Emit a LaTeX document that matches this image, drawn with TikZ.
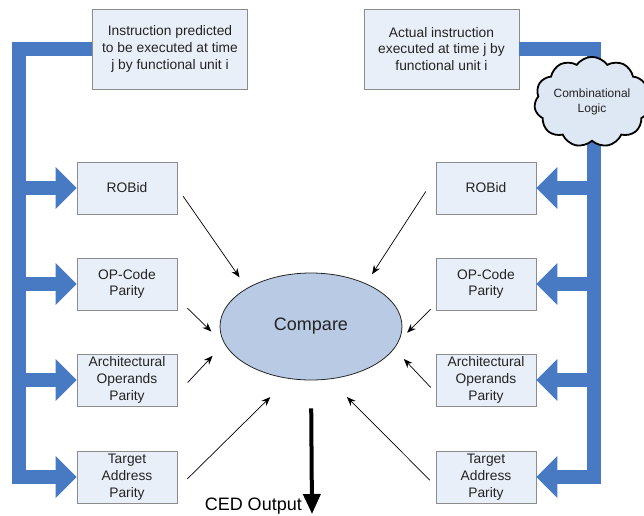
\documentclass[tikz,border=0pt]{standalone}
\usepackage{fontspec}
\setmainfont{Liberation Sans}
\usetikzlibrary{arrows.meta, positioning, calc, shapes.geometric, shapes.symbols}

\definecolor{busblue}{RGB}{72,122,196}
\definecolor{boxfill}{RGB}{233,239,248}
\definecolor{boxline}{RGB}{140,140,140}
\definecolor{cmpfill}{RGB}{185,203,228}
\definecolor{cloudfill}{RGB}{222,232,245}
\definecolor{txt}{RGB}{35,35,35}

\tikzset{
  unit/.style={draw=boxline, fill=boxfill, line width=0.8pt, minimum width=100pt,
    minimum height=52pt, inner sep=2pt, align=center, text=txt,
    font=\fontsize{13.8}{16.7}\selectfont},
  instr/.style={unit, minimum width=155pt, minimum height=80pt},
  bus/.style={draw=busblue, line width=14pt, line join=miter,
    -{Triangle[length=21pt, width=41pt]}},
  feed/.style={-{Stealth[length=9pt, width=7pt]}, line width=0.7pt},
}

\begin{document}
\begin{tikzpicture}[x=1pt, y=-1pt]
  \useasboundingbox (0,0) rectangle (644,515);

  \node[instr] (pred) at (170,49) {Instruction predicted\\to be executed at time\\j by functional unit i};
  \node[instr] (act) at (441.5,49) {Actual instruction\\executed at time j by\\functional unit i};

  \node[unit] (lrob) at (127,188) {ROBid};
  \node[unit] (lop) at (127,284) {OP-Code\\Parity};
  \node[unit] (larch) at (127,380) {Architectural\\Operands\\Parity};
  \node[unit] (ltgt) at (127,477) {Target\\Address\\Parity};

  \node[unit] (rrob) at (486,188) {ROBid};
  \node[unit] (rop) at (486,284) {OP-Code\\Parity};
  \node[unit] (rarch) at (486,380) {Architectural\\Operands\\Parity};
  \node[unit] (rtgt) at (486,477) {Target\\Address\\Parity};

  \node[ellipse, draw=black!85, fill=cmpfill, line width=0.8pt, minimum width=182pt,
    minimum height=107pt, text=txt, font=\fontsize{18}{20}\selectfont] (cmp) at (311,326.5) {Compare};

  % left bus
  \coordinate (lbot) at (19,477);
  \draw[bus] (pred.west) -| (lbot) -- (ltgt.west);
  \foreach \b in {lrob, lop, larch}
    \draw[bus] (lbot |- \b.west) -- (\b.west);

  % right bus
  \coordinate (rbot) at (593.5,477);
  \draw[bus] (act.east) -| (rbot) -- (rtgt.east);
  \foreach \b in {rrob, rop, rarch}
    \draw[bus] (rbot |- \b.east) -- (\b.east);

  \node[cloud, cloud puffs=11, cloud puff arc=110, aspect=1.4, draw=black, line width=1.8pt,
    fill=cloudfill, minimum width=104pt, minimum height=79pt, inner sep=0pt, align=center,
    text=txt, font=\fontsize{12}{14.5}\selectfont] (logic) at (592,102) {Combinational\\Logic};

  \draw[feed, shorten <=10pt, shorten >=13pt] (lrob.east) -- (cmp.149);
  \draw[feed, shorten <=14pt, shorten >=19pt] (lop.-16) -- (cmp.192);
  \draw[feed, shorten <=15pt, shorten >=17pt] (larch.-15) -- (cmp.191);
  \draw[feed, shorten <=14pt, shorten >=26pt] (ltgt.-13) -- (cmp.247);

  \draw[feed, shorten <=18pt, shorten >=11pt] (rrob.167) -- (cmp.38);
  \draw[feed, shorten <=7pt, shorten >=11pt] (rop.202) -- (cmp.-9);
  \draw[feed, shorten <=7pt, shorten >=14pt] (rarch.194) -- (cmp.-15);
  \draw[feed, shorten <=8pt, shorten >=25pt] (rtgt.190) -- (cmp.-71);

  \coordinate (ced) at (312,514);
  \draw[line width=4pt, -{Triangle[length=20pt, width=17pt]}, shorten <=28pt] (cmp.south) -- (ced);
  \node[anchor=base east, inner sep=0pt, text=black, font=\fontsize{18}{20}\selectfont] (cedlbl) at (302,510) {CED Output};
\end{tikzpicture}
\end{document}
